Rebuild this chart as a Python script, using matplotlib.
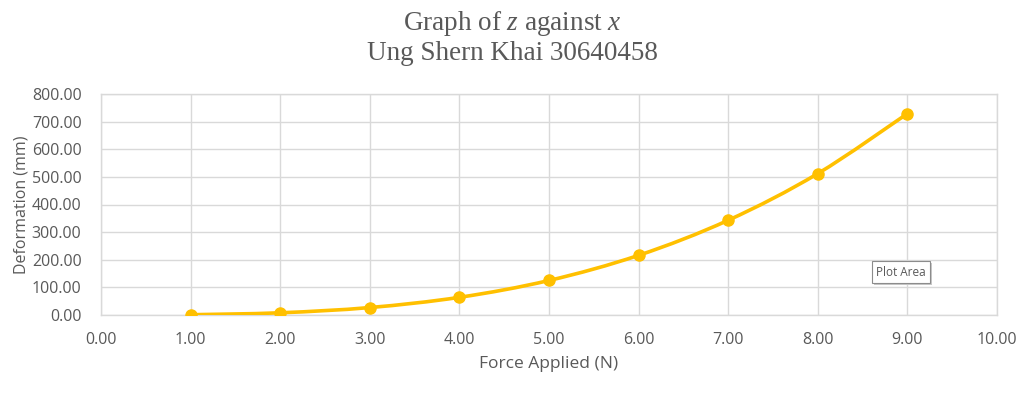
import numpy as np
import matplotlib
matplotlib.use("Agg")
import matplotlib.pyplot as plt
from matplotlib.path import Path
from matplotlib.patches import PathPatch

plt.rcParams["mathtext.fontset"] = "custom"
plt.rcParams["mathtext.rm"] = "Liberation Serif"
plt.rcParams["mathtext.it"] = "Liberation Serif:italic"

force = [1, 2, 3, 4, 5, 6, 7, 8, 9]
deformation = [1, 8, 27, 64, 125, 216, 343, 512, 729]
x_ticks = [0, 1, 2, 3, 4, 5, 6, 7, 8, 9, 10]
y_ticks = [0, 100, 200, 300, 400, 500, 600, 700, 800]

COLOR = "#FFC000"
GRID = "#D9D9D9"
TXT = "#595959"

fig = plt.figure(figsize=(10.24, 3.94), dpi=100)
ax = fig.add_axes([101/1024, 1-315/394, (997-101)/1024, (315-94)/394])

ax.set_xlim(0, 10)
ax.set_ylim(0, 800)
ax.set_xticks(x_ticks)
ax.set_yticks(y_ticks)
ax.set_xticklabels([f"{v:.2f}" for v in x_ticks])
ax.set_yticklabels([f"{v:.2f}" for v in y_ticks])
ax.grid(True, color=GRID, linewidth=1)
ax.set_axisbelow(True)
for s in ax.spines.values():
    s.set_color(GRID)
    s.set_linewidth(1)
ax.tick_params(length=0, labelsize=11.5, labelcolor=TXT)
ax.tick_params(axis="x", pad=12)
ax.tick_params(axis="y", pad=14)
for lab in ax.get_xticklabels() + ax.get_yticklabels():
    lab.set_family("Open Sans")

# Smoothed line (Excel-style Bezier through the data points)
xs = np.array(force, float)
ys = np.array(deformation, float)
n = len(xs)
verts = [(xs[0], ys[0])]
codes = [Path.MOVETO]
t = 1/6
for i in range(n-1):
    p0 = (xs[max(i-1, 0)], ys[max(i-1, 0)])
    p1 = (xs[i], ys[i])
    p2 = (xs[i+1], ys[i+1])
    p3 = (xs[min(i+2, n-1)], ys[min(i+2, n-1)])
    c1 = (p1[0] + (p2[0]-p0[0])*t, p1[1] + (p2[1]-p0[1])*t)
    c2 = (p2[0] - (p3[0]-p1[0])*t, p2[1] - (p3[1]-p1[1])*t)
    verts += [c1, c2, p2]
    codes += [Path.CURVE4]*3
ax.add_patch(PathPatch(Path(verts, codes), fill=False, edgecolor=COLOR,
                       linewidth=2.6, capstyle="round", joinstyle="round", zorder=3))
ax.plot(force, deformation, linestyle="none", marker="o", markersize=8,
        color=COLOR, zorder=4)

ax.set_xlabel("Force Applied (N)", fontsize=12.5, color=TXT, family="Open Sans", labelpad=6)
ax.set_ylabel("Deformation (mm)", fontsize=11.5, color=TXT, family="Open Sans", labelpad=2)

fig.text(0.5, 1-23/394, "Graph of $\\mathit{z}$ against $\\mathit{x}$", ha="center", va="center",
         fontsize=19.5, color=TXT, family="Liberation Serif")
fig.text(0.5, 1-53/394, "Ung Shern Khai 30640458", ha="center", va="center",
         fontsize=19.5, color=TXT, family="Liberation Serif")

# "Plot Area" tooltip with shadow
fig.text(903/1024, 1-274/394, "Plot Area", ha="center", va="center", fontsize=8.5,
         color="#bfbfbf", family="Open Sans", alpha=0.0,
         bbox=dict(boxstyle="square,pad=0.35", facecolor="#c8c8c8", edgecolor="none"))
fig.text(901/1024, 1-272/394, "Plot Area", ha="center", va="center", fontsize=8.5,
         color=TXT, family="Open Sans",
         bbox=dict(boxstyle="square,pad=0.35", facecolor="white", edgecolor="#8c8c8c", linewidth=0.8))

fig.savefig("out.png", dpi=100, facecolor="white")
